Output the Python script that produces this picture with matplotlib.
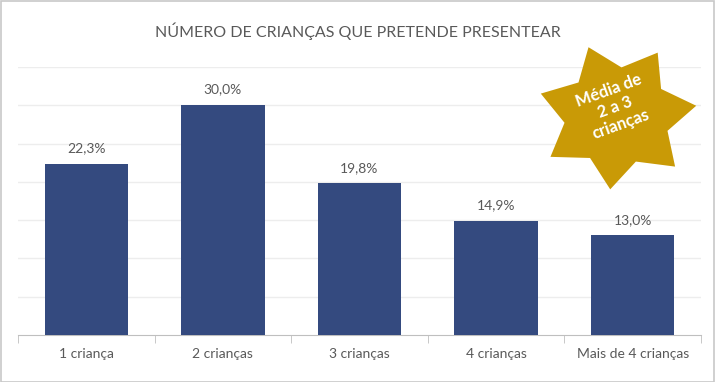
import numpy as np
import matplotlib
matplotlib.use("Agg")
import matplotlib.pyplot as plt
from matplotlib.patches import Polygon, Rectangle

categories = ["1 criança", "2 crianças", "3 crianças", "4 crianças", "Mais de 4 crianças"]
values = [22.3, 30.0, 19.8, 14.9, 13.0]
value_labels = ["22,3%", "30,0%", "19,8%", "14,9%", "13,0%"]
title = "NÚMERO DE CRIANÇAS QUE PRETENDE PRESENTEAR"
badge_text = "Média de\n2 a 3\ncrianças"

BAR = "#344A7F"
GOLD = "#C99A06"
GRAY = "#595959"
FONT = ["Lato", "DejaVu Sans"]

W, H = 715, 382
fig = plt.figure(figsize=(W / 100, H / 100), dpi=100)
fig.patch.set_facecolor("white")

ax = fig.add_axes([18 / W, 1 - 335 / H, (701 - 18) / W, (335 - 67) / H])
x = np.arange(len(categories))
ax.bar(x, values, width=0.61, color=BAR, zorder=3)
ax.set_xlim(-0.5, len(categories) - 0.5)
ax.set_ylim(0, 35)
ax.set_yticks(np.arange(5, 36, 5))
ax.yaxis.grid(True, color="#EDEDED", linewidth=1)
ax.tick_params(axis="y", left=False, labelleft=False)
for s in ["left", "right", "top"]:
    ax.spines[s].set_visible(False)
ax.spines["bottom"].set_color("#BFBFBF")
ax.set_xticks(x)
ax.set_xticklabels(categories, fontsize=10, color=GRAY, family=FONT)
ax.tick_params(axis="x", length=0, pad=9)
ax.set_xticks(np.arange(-0.5, len(categories), 1), minor=True)
ax.tick_params(axis="x", which="minor", length=6, color="#BFBFBF")

for xi, v, lab in zip(x, values, value_labels):
    ax.annotate(lab, (xi, v), xytext=(0, 7), textcoords="offset points",
                ha="center", va="bottom", fontsize=10, color=GRAY, family=FONT)

fig.text(0.5, 1 - 31 / H, title, ha="center", va="center", fontsize=11.5,
         color=GRAY, family=FONT)

# badge star
cx, cy = 617, 116
ro, ri, rot = 80, 53, 8
pts = []
for k in range(14):
    ang = np.deg2rad(rot + k * 360 / 14)
    r = ro if k % 2 == 0 else ri
    px = cx + r * np.cos(ang)
    py = cy - r * np.sin(ang) * 0.92
    pts.append((px / W, 1 - py / H))
fig.patches.append(Polygon(pts, closed=True, transform=fig.transFigure,
                           facecolor=GOLD, edgecolor="none", zorder=5))
fig.text(615 / W, 1 - 107 / H, badge_text, ha="center", va="center",
         rotation=20, rotation_mode="anchor", fontsize=12, fontweight="bold",
         color="white", family=FONT, linespacing=1.15, zorder=6)

fig.patches.append(Rectangle((0.5 / W, 0.5 / H), 1 - 1.5 / W, 1 - 1.5 / H,
                             transform=fig.transFigure, fill=False,
                             edgecolor="#C8C8C8", linewidth=1.2))

fig.savefig("out.png", dpi=100)
